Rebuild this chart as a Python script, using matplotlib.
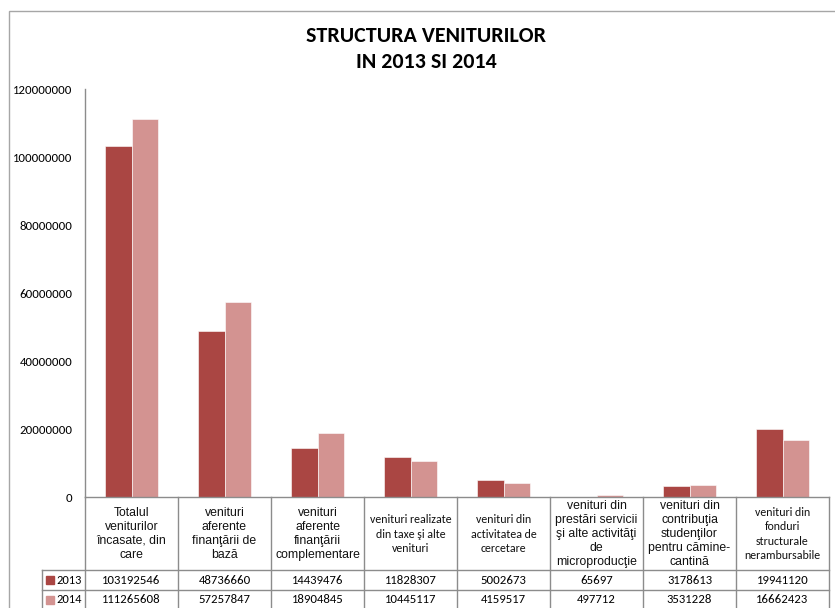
import matplotlib
matplotlib.use("Agg")
import matplotlib.pyplot as plt
from matplotlib import font_manager
from matplotlib.patches import Rectangle
import numpy as np

# ---------------- data ----------------
categories = [
    "Totalul\nveniturilor\nîncasate, din\ncare",
    "venituri\naferente\nfinanţării de\nbază",
    "venituri\naferente\nfinanţării\ncomplementare",
    "venituri realizate\ndin taxe şi alte\nvenituri",
    "venituri din\nactivitatea de\ncercetare",
    "venituri din\nprestări servicii\nşi alte activităţi\nde\nmicroproducţie",
    "venituri din\ncontribuţia\nstudenţilor\npentru cămine-\ncantină",
    "venituri din\nfonduri\nstructurale\nnerambursabile",
]
years = ["2013", "2014"]
values_2013 = [103192546, 48736660, 14439476, 11828307, 5002673, 65697, 3178613, 19941120]
values_2014 = [111265608, 57257847, 18904845, 10445117, 4159517, 497712, 3531228, 16662423]
yticks = [0, 20000000, 40000000, 60000000, 80000000, 100000000, 120000000]
title = "STRUCTURA VENITURILOR\nIN 2013 SI 2014"

# ---------------- style ----------------
c2013 = "#AA4643"
c2014 = "#D39391"
grid_c = "#8c8c8c"
names = {f.name for f in font_manager.fontManager.ttflist}
calibri_like = "Carlito" if "Carlito" in names else "Lato"
title_font = "Carlito" if "Carlito" in names else "Lato"
arial_like = "Liberation Sans"
# header cells that use the narrower (Calibri-like) font in the reference
calibri_cols = {3, 4, 7}

W, H = 835, 608
fig = plt.figure(figsize=(W / 100, H / 100), dpi=100)


def fx(px):
    return px / W


def fy(py):
    return 1 - py / H


# outer chart frame
fig.patches.append(Rectangle((fx(9), -0.05), 1.2, fy(11) + 0.05, transform=fig.transFigure,
                             fill=False, edgecolor="#a6a6a6", linewidth=1.0))

fig.text(fx(426), fy(49), title, ha="center", va="center", fontsize=15.8,
         fontweight="bold", family=title_font, linespacing=1.4)

# ---------------- main axes ----------------
left_px, right_px, top_px, bot_px = 85, 829, 89, 497
ax = fig.add_axes([fx(left_px), fy(bot_px), fx(right_px) - fx(left_px), fy(top_px) - fy(bot_px)])
x = np.arange(len(values_2013))
w = 0.285
ax.bar(x - w / 2, values_2013, w, color=c2013, edgecolor="white", linewidth=0.4)
ax.bar(x + w / 2, values_2014, w, color=c2014, edgecolor="white", linewidth=0.4)
ax.set_xlim(-0.5, len(x) - 0.5)
ax.set_ylim(0, yticks[-1])
ax.set_yticks(yticks)
ax.set_yticklabels([str(v) for v in yticks], family=calibri_like, fontsize=9.2)
ax.tick_params(axis="y", length=0, pad=9)
ax.set_xticks([])
for s in ["top", "right", "bottom"]:
    ax.spines[s].set_visible(False)
ax.spines["left"].set_color(grid_c)
ax.spines["left"].set_linewidth(1.0)

# ---------------- data table ----------------
tab_h = H - bot_px
tab = fig.add_axes([fx(left_px), 0, fx(right_px) - fx(left_px), fy(bot_px)])
tab.set_xlim(-0.5, len(x) - 0.5)
tab.set_ylim(tab_h, 0)
tab.axis("off")
px_unit = (right_px - left_px) / len(x)
leg_left = -0.5 - 43 / px_unit
hdr_bot = 570 - bot_px
row1_bot = 589.5 - bot_px
row_bot = tab_h + 5

kw = dict(color=grid_c, linewidth=1.0, clip_on=False)
tab.plot([-0.5, len(x) - 0.5], [0, 0], **kw)
for b in np.arange(-0.5, len(x), 1.0):
    tab.plot([b, b], [0, row_bot], **kw)
tab.plot([leg_left, leg_left], [hdr_bot, row_bot], **kw)
tab.plot([leg_left, len(x) - 0.5], [hdr_bot, hdr_bot], **kw)
tab.plot([leg_left, len(x) - 0.5], [row1_bot, row1_bot], **kw)

for i, lab in enumerate(categories):
    if i in calibri_cols:
        fam, fs, ls = calibri_like, 8.6, 1.38
    else:
        fam, fs, ls = arial_like, 8.8, 1.2
    tab.text(i, hdr_bot / 2 + 0.5, lab, ha="center", va="center", fontsize=fs,
             family=fam, linespacing=ls, color="#111111")

row_centers = [(hdr_bot + row1_bot) / 2 + 0.5, (row1_bot + tab_h + 1) / 2 + 0.5]
for r, (yr, vals, col) in enumerate(zip(years, [values_2013, values_2014], [c2013, c2014])):
    yc = row_centers[r]
    sq = 8
    tab.add_patch(Rectangle((leg_left + 4 / px_unit, yc - sq / 2), sq / px_unit, sq,
                            color=col, clip_on=False))
    tab.text(leg_left + 14 / px_unit, yc, yr, ha="left", va="center", fontsize=9,
             family=calibri_like, clip_on=False)
    for i, v in enumerate(vals):
        tab.text(i, yc, str(v), ha="center", va="center", fontsize=9.2, family=calibri_like)

fig.savefig("out.png", dpi=100)
